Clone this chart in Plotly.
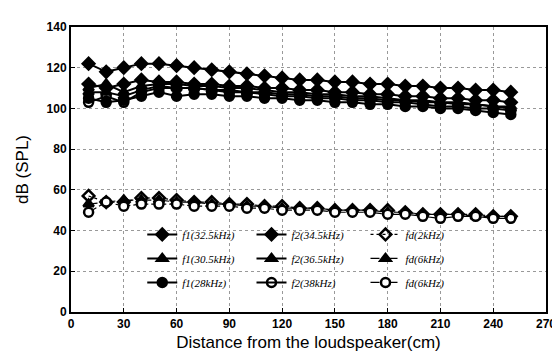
import plotly.graph_objects as go

distance = [10, 20, 30, 40, 50, 60, 70, 80, 90, 100, 110, 120, 130, 140, 150,
            160, 170, 180, 190, 200, 210, 220, 230, 240, 250]

f1_325 = [112, 110, 112, 114, 113, 113, 112, 112, 111, 111, 110, 110, 109, 109, 108,
          108, 107, 107, 106, 106, 105, 105, 104, 104, 103]
f2_345 = [122, 118, 120, 122, 122, 121, 120, 119, 118, 117, 116, 115, 114, 114, 113,
          113, 112, 112, 111, 111, 110, 110, 109, 109, 108]
fd_2 = [57, 54, 54, 56, 56, 55, 54, 54, 53, 53, 52, 52, 51, 51, 50,
        50, 50, 50, 49, 48, 48, 48, 48, 47, 47]
f1_305 = [110, 112, 108, 111, 112, 112, 111, 111, 110, 110, 109, 108, 108, 107, 107,
          106, 106, 105, 104, 104, 103, 103, 102, 101, 100]
f2_365 = [108, 108, 106, 109, 111, 110, 110, 109, 109, 108, 108, 107, 107, 106, 106,
          105, 105, 104, 104, 103, 103, 102, 102, 101, 101]
fd_6 = [53, 54, 55, 55, 55, 54, 54, 53, 53, 52, 52, 51, 51, 51, 50,
        50, 50, 49, 49, 48, 48, 48, 47, 47, 47]
f1_28 = [105, 103, 104, 106, 108, 106, 107, 107, 106, 106, 105, 105, 104, 104, 103,
         103, 102, 102, 101, 101, 100, 100, 99, 98, 97]
f2_38 = [103, 106, 103, 108, 110, 110, 110, 109, 108, 108, 107, 106, 106, 105, 105,
         104, 104, 103, 103, 102, 101, 101, 100, 100, 99]
fd_8 = [49, 54, 52, 53, 53, 53, 52, 52, 52, 51, 51, 50, 50, 50, 49,
        49, 49, 48, 48, 47, 46, 47, 47, 46, 46]

x_ticks = [0, 30, 60, 90, 120, 150, 180, 210, 240, 270]
y_ticks = [0, 20, 40, 60, 80, 100, 120, 140]

series = [
    # name, values, symbol, fill, dash, legend
    ("f1(32.5kHz)", f1_325, "diamond", "black", "solid", "legend"),
    ("f1(30.5kHz)", f1_305, "triangle-up", "black", "solid", "legend"),
    ("f1(28kHz)", f1_28, "circle", "black", "solid", "legend"),
    ("f2(34.5kHz)", f2_345, "diamond", "black", "solid", "legend2"),
    ("f2(36.5kHz)", f2_365, "triangle-up", "black", "solid", "legend2"),
    ("f2(38kHz)", f2_38, "circle-open", "black", "solid", "legend2"),
    ("fd(2kHz)", fd_2, "diamond-open", "black", "dot", "legend3"),
    ("fd(6kHz)", fd_6, "triangle-up", "black", "dash", "legend3"),
    ("fd(6kHz)", fd_8, "circle", "white", "dashdot", "legend3"),
]

fig = go.Figure()
for i, (name, vals, sym, fill, dash, leg) in enumerate(series):
    is_fd = name.startswith("fd")
    fig.add_trace(go.Scatter(
        x=distance, y=vals, name=name, mode="lines+markers",
        line=dict(color="black", width=1.2 if is_fd else 2, dash=dash),
        marker=dict(symbol=sym, size=9, color=fill,
                    line=dict(color="black", width=2.5)),
        legend=leg, legendgroup=f"g{i}",
    ))

leg_font = dict(family="Liberation Serif", size=11, color="black", style="italic")
common = dict(bgcolor="rgba(0,0,0,0)", font=leg_font, tracegroupgap=5,
              itemwidth=30, yanchor="top", xanchor="left", traceorder="grouped")

bold_tick = dict(family="Liberation Sans", size=12, color="black", weight="bold")

fig.update_layout(
    width=560, height=355,
    margin=dict(l=63, r=12, t=14, b=51),
    paper_bgcolor="white", plot_bgcolor="white",
    font=dict(family="Liberation Sans", color="black"),
    legend=dict(x=0.15, y=0.323, **common),
    legend2=dict(x=0.38, y=0.323, **common),
    legend3=dict(x=0.62, y=0.323, **common),
    xaxis=dict(range=[0, 270], tickvals=x_ticks, showline=True, linecolor="black",
               linewidth=2, mirror=True, ticks="inside", ticklen=4, tickcolor="black",
               showgrid=True, gridcolor="#999", griddash="dot", gridwidth=1,
               zeroline=False, tickfont=bold_tick,
               title=dict(text="Distance from the loudspeaker(cm)",
                          font=dict(family="Liberation Sans", size=17), standoff=6)),
    yaxis=dict(range=[0, 140], tickvals=y_ticks, showline=True, linecolor="black",
               linewidth=2, mirror=True, ticks="inside", ticklen=4, tickcolor="black",
               showgrid=True, gridcolor="#999", griddash="dot", gridwidth=1,
               zeroline=False, tickfont=bold_tick,
               title=dict(text="dB (SPL)",
                          font=dict(family="Liberation Sans", size=17), standoff=14)),
)

fig.write_html("out.html")
